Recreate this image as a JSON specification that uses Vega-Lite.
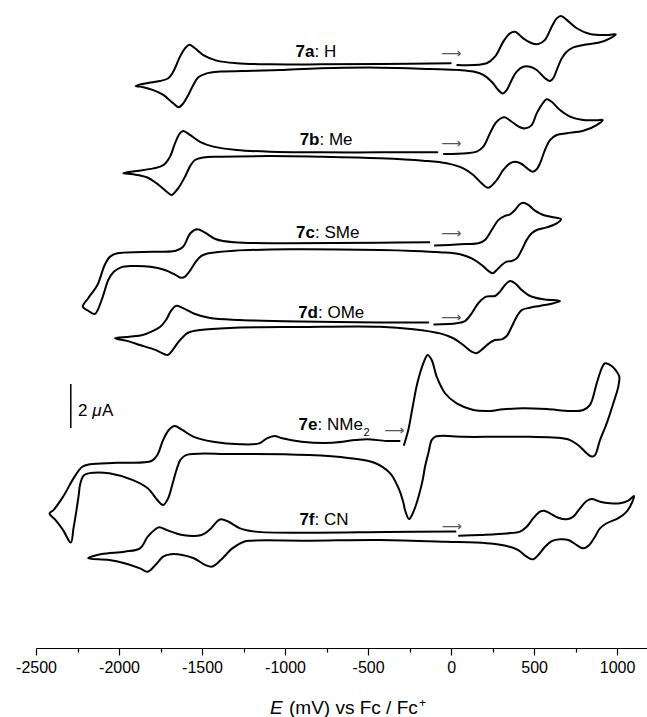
{
"$schema": "https://vega.github.io/schema/vega-lite/v6.json",
"width": 611, "height": 648,
"autosize": "none",
"padding": {"left": 36, "top": 0, "right": 0, "bottom": 69},
"background": "white",
"config": {"view": {"stroke": null}},
"encoding": {
 "x": {"field": "E", "type": "quantitative",
  "scale": {"domain": [-2500, 1180], "nice": false, "zero": false},
  "axis": {"values": [-2500,-2250,-2000,-1750,-1500,-1250,-1000,-750,-500,-250,0,250,500,750,1000],
   "labelExpr": "datum.value % 500 === 0 ? (datum.value < 0 ? '-' + abs(datum.value) : '' + datum.value) : ''",
   "tickSize": {"condition": {"test": "datum.value % 500 === 0", "value": 7}, "value": 4},
   "title": null, "grid": false, "domainColor": "black", "tickColor": "black", "labelColor": "black",
   "labelFont": "Liberation Sans", "labelFontSize": 16, "labelPadding": 4, "domainWidth": 1.2, "tickWidth": 1.2,
   "labelFlush": false, "labelOverlap": false}},
 "y": {"field": "I", "type": "quantitative",
  "scale": {"domain": [0, 29.4545], "nice": false, "zero": false}, "axis": null}
},
"layer": [
 {"data": {"values": [
{"c":"7a","E":37.5,"I":26.50},{"c":"7a","E":214.5,"I":26.58},{"c":"7a","E":264.5,"I":26.88},{"c":"7a","E":314.5,"I":27.56},{"c":"7a","E":354.9,"I":27.94},{"c":"7a","E":385,"I":28.01},{"c":"7a","E":435,"I":27.71},{"c":"7a","E":485.6,"I":27.49},{"c":"7a","E":525.3,"I":27.45},{"c":"7a","E":565.7,"I":27.64},{"c":"7a","E":606,"I":28.24},{"c":"7a","E":636.1,"I":28.62},{"c":"7a","E":662,"I":28.73},{"c":"7a","E":696.4,"I":28.55},{"c":"7a","E":756.6,"I":28.17},{"c":"7a","E":836.7,"I":27.91},{"c":"7a","E":937.3,"I":27.86},{"c":"7a","E":991.5,"I":27.90},
{"c":"7a","E":957.1,"I":27.71},{"c":"7a","E":896.9,"I":27.53},{"c":"7a","E":796.3,"I":27.41},{"c":"7a","E":736.1,"I":27.30},{"c":"7a","E":696.4,"I":27.10},{"c":"7a","E":666.2,"I":26.80},{"c":"7a","E":636.1,"I":26.27},{"c":"7a","E":615.6,"I":25.90},{"c":"7a","E":595.8,"I":25.77},{"c":"7a","E":565.7,"I":25.90},{"c":"7a","E":515.7,"I":26.27},{"c":"7a","E":475.3,"I":26.42},{"c":"7a","E":435,"I":26.42},{"c":"7a","E":395.2,"I":26.20},{"c":"7a","E":365.1,"I":25.82},{"c":"7a","E":335,"I":25.36},{"c":"7a","E":310.9,"I":25.21},{"c":"7a","E":284.4,"I":25.36},{"c":"7a","E":244.6,"I":25.74},{"c":"7a","E":194,"I":26.05},{"c":"7a","E":133.8,"I":26.20},{"c":"7a","E":53.7,"I":26.27},{"c":"7a","E":-127,"I":26.32},{"c":"7a","E":-428.1,"I":26.38},{"c":"7a","E":-789.5,"I":26.35},{"c":"7a","E":-1030.4,"I":26.27},{"c":"7a","E":-1191.2,"I":26.24},{"c":"7a","E":-1391.8,"I":26.20},{"c":"7a","E":-1471.9,"I":26.12},{"c":"7a","E":-1522.5,"I":25.94},{"c":"7a","E":-1552.6,"I":25.59},{"c":"7a","E":-1582.7,"I":25.14},{"c":"7a","E":-1612.8,"I":24.76},{"c":"7a","E":-1640.5,"I":24.58},{"c":"7a","E":-1673.1,"I":24.76},{"c":"7a","E":-1733.3,"I":25.14},{"c":"7a","E":-1793.5,"I":25.36},{"c":"7a","E":-1853.7,"I":25.49},{"c":"7a","E":-1899.5,"I":25.55},
{"c":"7a","E":-1833.3,"I":25.67},{"c":"7a","E":-1753.2,"I":25.77},{"c":"7a","E":-1703.2,"I":25.90},{"c":"7a","E":-1673.1,"I":26.20},{"c":"7a","E":-1632.7,"I":26.88},{"c":"7a","E":-1602.6,"I":27.26},{"c":"7a","E":-1576.7,"I":27.42},{"c":"7a","E":-1542.4,"I":27.26},{"c":"7a","E":-1492.4,"I":26.95},{"c":"7a","E":-1411.7,"I":26.70},{"c":"7a","E":-1291.2,"I":26.58},{"c":"7a","E":-1090.6,"I":26.53},{"c":"7a","E":-789.5,"I":26.53},{"c":"7a","E":-428.1,"I":26.55},{"c":"7a","E":-2.3,"I":26.58},
{"c":"7b","E":-42.7,"I":22.45},{"c":"7b","E":94.1,"I":22.49},{"c":"7b","E":154.3,"I":22.56},{"c":"7b","E":194,"I":22.79},{"c":"7b","E":234.4,"I":23.40},{"c":"7b","E":274.8,"I":23.92},{"c":"7b","E":320.5,"I":24.12},{"c":"7b","E":365.1,"I":23.92},{"c":"7b","E":415.1,"I":23.67},{"c":"7b","E":449.4,"I":23.62},{"c":"7b","E":485.6,"I":23.77},{"c":"7b","E":515.7,"I":24.30},{"c":"7b","E":555.4,"I":24.79},{"c":"7b","E":575.9,"I":24.94},{"c":"7b","E":606,"I":24.83},{"c":"7b","E":656,"I":24.45},{"c":"7b","E":716.2,"I":24.15},{"c":"7b","E":796.3,"I":24.00},{"c":"7b","E":877,"I":23.99},{"c":"7b","E":913.2,"I":24.00},
{"c":"7b","E":877,"I":23.77},{"c":"7b","E":796.3,"I":23.51},{"c":"7b","E":696.4,"I":23.40},{"c":"7b","E":636.1,"I":23.32},{"c":"7b","E":595.8,"I":23.09},{"c":"7b","E":565.7,"I":22.64},{"c":"7b","E":535.5,"I":22.03},{"c":"7b","E":515.7,"I":21.76},{"c":"7b","E":491.6,"I":21.65},{"c":"7b","E":465.1,"I":21.76},{"c":"7b","E":425.3,"I":22.00},{"c":"7b","E":385,"I":22.10},{"c":"7b","E":354.9,"I":22.03},{"c":"7b","E":314.5,"I":21.73},{"c":"7b","E":274.8,"I":21.27},{"c":"7b","E":224.2,"I":20.92},{"c":"7b","E":184.4,"I":21.12},{"c":"7b","E":133.8,"I":21.50},{"c":"7b","E":73.6,"I":21.80},{"c":"7b","E":-26.4,"I":22.03},{"c":"7b","E":-167.3,"I":22.15},{"c":"7b","E":-428.1,"I":22.26},{"c":"7b","E":-789.5,"I":22.33},{"c":"7b","E":-1090.6,"I":22.36},{"c":"7b","E":-1391.8,"I":22.33},{"c":"7b","E":-1492.4,"I":22.30},{"c":"7b","E":-1542.4,"I":22.18},{"c":"7b","E":-1568.3,"I":21.95},{"c":"7b","E":-1602.6,"I":21.42},{"c":"7b","E":-1642.9,"I":20.90},{"c":"7b","E":-1673.1,"I":20.64},{"c":"7b","E":-1682.7,"I":20.59},{"c":"7b","E":-1712.8,"I":20.74},{"c":"7b","E":-1773,"I":21.12},{"c":"7b","E":-1833.3,"I":21.40},{"c":"7b","E":-1914,"I":21.53},{"c":"7b","E":-1974.2,"I":21.58},
{"c":"7b","E":-1893.5,"I":21.68},{"c":"7b","E":-1793.5,"I":21.80},{"c":"7b","E":-1733.3,"I":21.95},{"c":"7b","E":-1692.9,"I":22.33},{"c":"7b","E":-1662.8,"I":22.94},{"c":"7b","E":-1632.7,"I":23.40},{"c":"7b","E":-1612.8,"I":23.50},{"c":"7b","E":-1572.5,"I":23.32},{"c":"7b","E":-1512.2,"I":23.01},{"c":"7b","E":-1432.1,"I":22.79},{"c":"7b","E":-1291.2,"I":22.64},{"c":"7b","E":-1090.6,"I":22.56},{"c":"7b","E":-789.5,"I":22.53},{"c":"7b","E":-428.1,"I":22.53},{"c":"7b","E":-83,"I":22.53},
{"c":"7c","E":-96.9,"I":18.29},{"c":"7c","E":53.7,"I":18.35},{"c":"7c","E":163.9,"I":18.40},{"c":"7c","E":204.3,"I":18.55},{"c":"7c","E":244.6,"I":19.00},{"c":"7c","E":284.4,"I":19.45},{"c":"7c","E":324.7,"I":19.64},{"c":"7c","E":354.9,"I":19.71},{"c":"7c","E":385,"I":19.91},{"c":"7c","E":415.1,"I":20.18},{"c":"7c","E":435,"I":20.24},{"c":"7c","E":465.1,"I":20.14},{"c":"7c","E":505.4,"I":19.88},{"c":"7c","E":555.4,"I":19.68},{"c":"7c","E":615.6,"I":19.58},{"c":"7c","E":662,"I":19.49},
{"c":"7c","E":636.1,"I":19.30},{"c":"7c","E":575.9,"I":19.12},{"c":"7c","E":515.7,"I":19.00},{"c":"7c","E":485.6,"I":18.85},{"c":"7c","E":455.4,"I":18.55},{"c":"7c","E":425.3,"I":18.09},{"c":"7c","E":395.2,"I":17.71},{"c":"7c","E":365.1,"I":17.59},{"c":"7c","E":335,"I":17.56},{"c":"7c","E":304.9,"I":17.41},{"c":"7c","E":274.8,"I":17.18},{"c":"7c","E":250.7,"I":17.03},{"c":"7c","E":224.2,"I":17.14},{"c":"7c","E":184.4,"I":17.41},{"c":"7c","E":124.2,"I":17.71},{"c":"7c","E":53.7,"I":17.90},{"c":"7c","E":-66.7,"I":17.99},{"c":"7c","E":-227.6,"I":18.05},{"c":"7c","E":-428.1,"I":18.09},{"c":"7c","E":-976.2,"I":18.12},{"c":"7c","E":-1306.3,"I":18.06},{"c":"7c","E":-1459.8,"I":17.94},{"c":"7c","E":-1503.8,"I":17.82},{"c":"7c","E":-1536.9,"I":17.56},{"c":"7c","E":-1570.1,"I":17.18},{"c":"7c","E":-1602.6,"I":16.88},{"c":"7c","E":-1624.9,"I":16.83},{"c":"7c","E":-1658,"I":16.95},{"c":"7c","E":-1723.6,"I":17.18},{"c":"7c","E":-1811.6,"I":17.33},{"c":"7c","E":-1921.8,"I":17.36},{"c":"7c","E":-1987.5,"I":17.30},{"c":"7c","E":-2031.4,"I":17.10},{"c":"7c","E":-2064.5,"I":16.73},{"c":"7c","E":-2097.7,"I":15.97},{"c":"7c","E":-2130.2,"I":15.33},{"c":"7c","E":-2145.9,"I":15.18},{"c":"7c","E":-2185.6,"I":15.33},{"c":"7c","E":-2218.1,"I":15.51},
{"c":"7c","E":-2185.6,"I":15.90},{"c":"7c","E":-2130.2,"I":16.50},{"c":"7c","E":-2086.2,"I":17.41},{"c":"7c","E":-2053.7,"I":17.79},{"c":"7c","E":-2009.7,"I":17.94},{"c":"7c","E":-1855.5,"I":18.00},{"c":"7c","E":-1658,"I":18.06},{"c":"7c","E":-1614,"I":18.24},{"c":"7c","E":-1570.1,"I":18.85},{"c":"7c","E":-1530.3,"I":19.03},{"c":"7c","E":-1482.1,"I":18.88},{"c":"7c","E":-1415.9,"I":18.58},{"c":"7c","E":-1306.3,"I":18.44},{"c":"7c","E":-976.2,"I":18.40},{"c":"7c","E":-428.7,"I":18.42},{"c":"7c","E":-131.2,"I":18.44},
{"c":"7d","E":-101.1,"I":14.71},{"c":"7d","E":33.8,"I":14.76},{"c":"7d","E":83.8,"I":14.86},{"c":"7d","E":124.2,"I":15.21},{"c":"7d","E":163.9,"I":15.67},{"c":"7d","E":210.3,"I":15.97},{"c":"7d","E":264.5,"I":16.00},{"c":"7d","E":294.6,"I":16.20},{"c":"7d","E":324.7,"I":16.50},{"c":"7d","E":354.9,"I":16.68},{"c":"7d","E":385,"I":16.58},{"c":"7d","E":425.3,"I":16.27},{"c":"7d","E":475.3,"I":16.00},{"c":"7d","E":555.4,"I":15.85},{"c":"7d","E":656,"I":15.77},
{"c":"7d","E":615.6,"I":15.67},{"c":"7d","E":535.5,"I":15.55},{"c":"7d","E":475.3,"I":15.47},{"c":"7d","E":425.3,"I":15.36},{"c":"7d","E":395.2,"I":15.06},{"c":"7d","E":365.1,"I":14.60},{"c":"7d","E":335,"I":14.18},{"c":"7d","E":304.9,"I":14.03},{"c":"7d","E":264.5,"I":14.00},{"c":"7d","E":234.4,"I":13.88},{"c":"7d","E":194,"I":13.62},{"c":"7d","E":154.3,"I":13.40},{"c":"7d","E":124.2,"I":13.47},{"c":"7d","E":73.6,"I":13.77},{"c":"7d","E":13.4,"I":14.08},{"c":"7d","E":-66.7,"I":14.30},{"c":"7d","E":-227.6,"I":14.49},{"c":"7d","E":-428.1,"I":14.60},{"c":"7d","E":-910,"I":14.59},{"c":"7d","E":-1331.6,"I":14.55},{"c":"7d","E":-1512.2,"I":14.45},{"c":"7d","E":-1584.5,"I":14.33},{"c":"7d","E":-1614.6,"I":14.14},{"c":"7d","E":-1641.7,"I":13.92},{"c":"7d","E":-1676.7,"I":13.55},{"c":"7d","E":-1706.8,"I":13.32},{"c":"7d","E":-1753.2,"I":13.45},{"c":"7d","E":-1780.9,"I":13.55},{"c":"7d","E":-1873.6,"I":13.77},{"c":"7d","E":-1945.9,"I":13.95},{"c":"7d","E":-2024.2,"I":14.08},
{"c":"7d","E":-1936.3,"I":14.15},{"c":"7d","E":-1857.4,"I":14.23},{"c":"7d","E":-1804.4,"I":14.38},{"c":"7d","E":-1753.2,"I":14.59},{"c":"7d","E":-1717,"I":14.91},{"c":"7d","E":-1686.9,"I":15.32},{"c":"7d","E":-1656.8,"I":15.55},{"c":"7d","E":-1614.6,"I":15.45},{"c":"7d","E":-1542.4,"I":15.18},{"c":"7d","E":-1452,"I":15.00},{"c":"7d","E":-1271.3,"I":14.91},{"c":"7d","E":-910,"I":14.84},{"c":"7d","E":-428.1,"I":14.80},{"c":"7d","E":-137.2,"I":14.79},
{"c":"7e","E":-283.6,"I":9.23},{"c":"7e","E":-257.7,"I":9.91},{"c":"7e","E":-231.2,"I":10.97},{"c":"7e","E":-203.5,"I":12.03},{"c":"7e","E":-167.3,"I":12.94},{"c":"7e","E":-140.8,"I":13.32},{"c":"7e","E":-116.7,"I":13.09},{"c":"7e","E":-86.6,"I":12.33},{"c":"7e","E":-36.6,"I":11.58},{"c":"7e","E":33.8,"I":11.12},{"c":"7e","E":133.8,"I":10.82},{"c":"7e","E":214.5,"I":10.77},{"c":"7e","E":314.5,"I":10.85},{"c":"7e","E":435,"I":10.90},{"c":"7e","E":575.9,"I":10.86},{"c":"7e","E":716.2,"I":10.77},{"c":"7e","E":796.3,"I":10.82},{"c":"7e","E":836.7,"I":11.05},{"c":"7e","E":877,"I":12.03},{"c":"7e","E":907.2,"I":12.71},{"c":"7e","E":927,"I":12.94},{"c":"7e","E":967.4,"I":12.82},{"c":"7e","E":997.5,"I":12.56},{"c":"7e","E":1013.2,"I":12.33},
{"c":"7e","E":1007.1,"I":11.88},{"c":"7e","E":977,"I":11.12},{"c":"7e","E":937.3,"I":10.21},{"c":"7e","E":896.9,"I":9.45},{"c":"7e","E":866.8,"I":8.77},{"c":"7e","E":846.9,"I":8.70},{"c":"7e","E":816.8,"I":8.85},{"c":"7e","E":776.5,"I":9.15},{"c":"7e","E":716.2,"I":9.45},{"c":"7e","E":636.1,"I":9.56},{"c":"7e","E":475.3,"I":9.60},{"c":"7e","E":274.8,"I":9.60},{"c":"7e","E":73.6,"I":9.60},{"c":"7e","E":-66.7,"I":9.64},{"c":"7e","E":-96.9,"I":9.60},{"c":"7e","E":-116.7,"I":9.45},{"c":"7e","E":-137.2,"I":8.85},{"c":"7e","E":-157.1,"I":8.24},{"c":"7e","E":-170.9,"I":7.64},{"c":"7e","E":-193.2,"I":6.95},{"c":"7e","E":-211.3,"I":6.50},{"c":"7e","E":-235.4,"I":6.05},{"c":"7e","E":-253.5,"I":5.86},{"c":"7e","E":-277.5,"I":6.27},{"c":"7e","E":-286.6,"I":6.59},{"c":"7e","E":-319.7,"I":7.32},{"c":"7e","E":-367.9,"I":7.95},{"c":"7e","E":-458.2,"I":8.41},{"c":"7e","E":-620.9,"I":8.64},{"c":"7e","E":-855.7,"I":8.77},{"c":"7e","E":-1319.5,"I":8.82},{"c":"7e","E":-1596.6,"I":8.77},{"c":"7e","E":-1630.3,"I":8.55},{"c":"7e","E":-1653.8,"I":8.09},{"c":"7e","E":-1676.7,"I":7.49},{"c":"7e","E":-1704.4,"I":6.80},{"c":"7e","E":-1734.5,"I":6.50},{"c":"7e","E":-1769.4,"I":6.73},{"c":"7e","E":-1827.2,"I":7.26},{"c":"7e","E":-1920,"I":7.64},{"c":"7e","E":-2059.1,"I":7.94},{"c":"7e","E":-2151.9,"I":7.97},{"c":"7e","E":-2209.7,"I":7.86},{"c":"7e","E":-2232.6,"I":7.49},{"c":"7e","E":-2244,"I":6.88},{"c":"7e","E":-2256.1,"I":6.27},{"c":"7e","E":-2274.1,"I":5.45},{"c":"7e","E":-2290.4,"I":4.79},{"c":"7e","E":-2336.8,"I":5.36},{"c":"7e","E":-2383.2,"I":5.82},{"c":"7e","E":-2418.1,"I":6.12},
{"c":"7e","E":-2394.6,"I":6.27},{"c":"7e","E":-2336.8,"I":6.88},{"c":"7e","E":-2267.5,"I":7.79},{"c":"7e","E":-2221.1,"I":8.24},{"c":"7e","E":-2174.8,"I":8.35},{"c":"7e","E":-2012.7,"I":8.42},{"c":"7e","E":-1804.4,"I":8.50},{"c":"7e","E":-1769.4,"I":8.77},{"c":"7e","E":-1734.5,"I":9.45},{"c":"7e","E":-1700.2,"I":9.91},{"c":"7e","E":-1665.2,"I":10.09},{"c":"7e","E":-1618.8,"I":9.91},{"c":"7e","E":-1549.6,"I":9.60},{"c":"7e","E":-1433.3,"I":9.38},{"c":"7e","E":-1271.3,"I":9.26},{"c":"7e","E":-1155.7,"I":9.30},{"c":"7e","E":-1109.3,"I":9.53},{"c":"7e","E":-1062.9,"I":9.64},{"c":"7e","E":-1016.6,"I":9.53},{"c":"7e","E":-900.9,"I":9.38},{"c":"7e","E":-715.4,"I":9.33},{"c":"7e","E":-576.3,"I":9.45},{"c":"7e","E":-507,"I":9.49},{"c":"7e","E":-390.8,"I":9.41},{"c":"7e","E":-310.1,"I":9.41},
{"c":"7f","E":47.7,"I":5.10},{"c":"7f","E":174.2,"I":5.14},{"c":"7f","E":335,"I":5.21},{"c":"7f","E":415.1,"I":5.29},{"c":"7f","E":455.4,"I":5.51},{"c":"7f","E":495.2,"I":5.90},{"c":"7f","E":535.5,"I":6.20},{"c":"7f","E":559.6,"I":6.24},{"c":"7f","E":595.8,"I":6.12},{"c":"7f","E":645.8,"I":5.92},{"c":"7f","E":696.4,"I":5.85},{"c":"7f","E":736.1,"I":5.97},{"c":"7f","E":776.5,"I":6.35},{"c":"7f","E":816.8,"I":6.68},{"c":"7f","E":846.9,"I":6.77},{"c":"7f","E":896.9,"I":6.65},{"c":"7f","E":957.1,"I":6.58},{"c":"7f","E":1017.4,"I":6.58},{"c":"7f","E":1067.4,"I":6.70},{"c":"7f","E":1101.7,"I":6.91},
{"c":"7f","E":1087.8,"I":6.58},{"c":"7f","E":1057.7,"I":6.20},{"c":"7f","E":1007.1,"I":5.90},{"c":"7f","E":937.3,"I":5.67},{"c":"7f","E":896.9,"I":5.44},{"c":"7f","E":866.8,"I":5.06},{"c":"7f","E":832.5,"I":4.68},{"c":"7f","E":796.3,"I":4.53},{"c":"7f","E":756.6,"I":4.68},{"c":"7f","E":706,"I":4.91},{"c":"7f","E":656,"I":4.94},{"c":"7f","E":606,"I":4.86},{"c":"7f","E":565.7,"I":4.60},{"c":"7f","E":525.3,"I":4.23},{"c":"7f","E":495.2,"I":4.03},{"c":"7f","E":455.4,"I":4.15},{"c":"7f","E":404.8,"I":4.45},{"c":"7f","E":335,"I":4.64},{"c":"7f","E":214.5,"I":4.76},{"c":"7f","E":-26.4,"I":4.83},{"c":"7f","E":-428.1,"I":4.91},{"c":"7f","E":-854.5,"I":4.88},{"c":"7f","E":-1202.1,"I":4.88},{"c":"7f","E":-1248.4,"I":4.83},{"c":"7f","E":-1317.7,"I":4.53},{"c":"7f","E":-1387,"I":4.00},{"c":"7f","E":-1438.2,"I":3.70},{"c":"7f","E":-1479.7,"I":3.77},{"c":"7f","E":-1549.6,"I":4.08},{"c":"7f","E":-1618.8,"I":4.23},{"c":"7f","E":-1688.1,"I":4.26},{"c":"7f","E":-1734.5,"I":4.15},{"c":"7f","E":-1780.9,"I":3.77},{"c":"7f","E":-1827.2,"I":3.47},{"c":"7f","E":-1873.6,"I":3.62},{"c":"7f","E":-1966.4,"I":3.85},{"c":"7f","E":-2059.1,"I":4.00},{"c":"7f","E":-2186.2,"I":4.08},
{"c":"7f","E":-2105.5,"I":4.27},{"c":"7f","E":-1966.4,"I":4.38},{"c":"7f","E":-1873.6,"I":4.53},{"c":"7f","E":-1827.2,"I":5.06},{"c":"7f","E":-1780.9,"I":5.40},{"c":"7f","E":-1758,"I":5.49},{"c":"7f","E":-1711.6,"I":5.36},{"c":"7f","E":-1618.8,"I":5.14},{"c":"7f","E":-1503.2,"I":5.14},{"c":"7f","E":-1456.8,"I":5.36},{"c":"7f","E":-1410.5,"I":5.74},{"c":"7f","E":-1387,"I":5.85},{"c":"7f","E":-1340.6,"I":5.74},{"c":"7f","E":-1271.3,"I":5.44},{"c":"7f","E":-1178.6,"I":5.29},{"c":"7f","E":-854.5,"I":5.24},{"c":"7f","E":-390.8,"I":5.27},{"c":"7f","E":26,"I":5.29}
 ]},
  "mark": {"type": "line", "stroke": "black", "strokeWidth": 2, "interpolate": "catmull-rom", "strokeJoin": "round", "strokeCap": "round"},
  "encoding": {"detail": {"field": "c"}, "order": {"value": null}}
 },
 {"data": {"values": [{"E": -2290.4, "I": 10.0, "I2": 12.0}]},
  "mark": {"type": "rule", "stroke": "black", "strokeWidth": 1.5},
  "encoding": {"y2": {"field": "I2"}}
 },
 {"data": {"values": [
   {"t":"7a","E":-822.6,"I":26.86},{"t":"7b","E":-792.5,"I":22.86},{"t":"7c","E":-819.6,"I":18.64},
   {"t":"7d","E":-801.5,"I":15.02},{"t":"7e","E":-804.6,"I":9.91},{"t":"7f","E":-822.6,"I":5.59}]},
  "mark": {"type": "text", "align": "right", "baseline": "alphabetic", "font": "Liberation Sans", "fontSize": 17, "fontWeight": "bold", "color": "black"},
  "encoding": {"text": {"field": "t"}}
 },
 {"data": {"values": [
   {"t":": H","E":-822.6,"I":26.86},{"t":": Me","E":-792.5,"I":22.86},{"t":": SMe","E":-819.6,"I":18.64},
   {"t":": OMe","E":-801.5,"I":15.02},{"t":": NMe","E":-804.6,"I":9.91},{"t":": CN","E":-822.6,"I":5.59},
   {"t":"2","E":-2247,"I":10.55},{"t":"A","E":-2102.5,"I":10.55}]},
  "mark": {"type": "text", "align": "left", "baseline": "alphabetic", "font": "Liberation Sans", "fontSize": 17, "color": "black"},
  "encoding": {"text": {"field": "t"}}
 },
 {"data": {"values": [{"t":"μ","E":-2161.5,"I":10.55}]},
  "mark": {"type": "text", "align": "left", "baseline": "alphabetic", "font": "Liberation Sans", "fontSize": 17, "fontStyle": "italic", "color": "black"},
  "encoding": {"text": {"field": "t"}}
 },
 {"data": {"values": [{"t":"2","E":-527.5,"I":9.64}]},
  "mark": {"type": "text", "align": "left", "baseline": "alphabetic", "font": "Liberation Sans", "fontSize": 11, "color": "black"},
  "encoding": {"text": {"field": "t"}}
 },
 {"data": {"values": [
   {"t":"⟶","E":1.9,"I":26.98},{"t":"⟶","E":1.9,"I":22.91},{"t":"⟶","E":1.9,"I":18.82},
   {"t":"⟶","E":1.9,"I":15.02},{"t":"⟶","E":-342.6,"I":9.88},{"t":"⟶","E":3.7,"I":5.49}]},
  "mark": {"type": "text", "align": "center", "baseline": "middle", "font": "DejaVu Sans", "fontSize": 14, "color": "#555555"},
  "encoding": {"text": {"field": "t"}}
 },
 {"data": {"values": [{"t":"E","E":-1090.6,"I":-3.02}]},
  "mark": {"type": "text", "align": "left", "baseline": "alphabetic", "font": "Liberation Sans", "fontSize": 19, "fontStyle": "italic", "color": "black"},
  "encoding": {"text": {"field": "t"}}
 },
 {"data": {"values": [{"t":"(mV) vs Fc / Fc","E":-976.2,"I":-3.02}]},
  "mark": {"type": "text", "align": "left", "baseline": "alphabetic", "font": "Liberation Sans", "fontSize": 19, "color": "black"},
  "encoding": {"text": {"field": "t"}}
 },
 {"data": {"values": [{"t":"+","E":-193.2,"I":-2.68}]},
  "mark": {"type": "text", "align": "left", "baseline": "alphabetic", "font": "Liberation Sans", "fontSize": 12, "color": "black"},
  "encoding": {"text": {"field": "t"}}
 }
]
}
